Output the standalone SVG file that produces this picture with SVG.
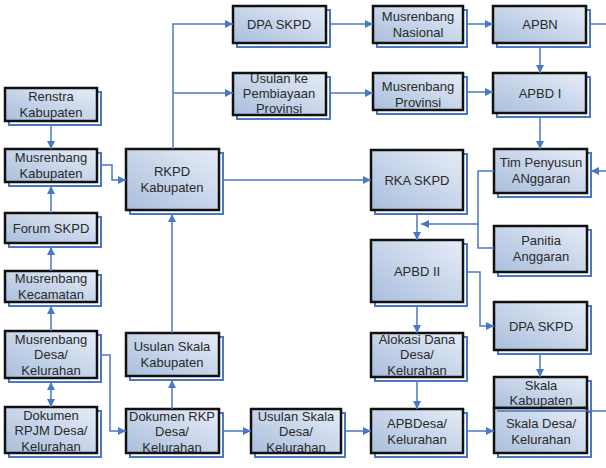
<svg xmlns="http://www.w3.org/2000/svg" width="606" height="468" viewBox="0 0 606 468">
<defs>
<linearGradient id="g" x1="0" y1="1" x2="1" y2="0">
<stop offset="0" stop-color="#A9BEDD"/>
<stop offset="1" stop-color="#E6ECF6"/>
</linearGradient>
<marker id="a" viewBox="0 0 10 10" refX="10" refY="5" markerWidth="8" markerHeight="8" markerUnits="userSpaceOnUse" orient="auto-start-reverse">
<path d="M0,0 L10,5 L0,10 z" fill="#4A78C2"/>
</marker>
<style>
.sh{fill:#fff;stroke:#4A78C2;stroke-width:2}
.bx{fill:url(#g);stroke:#111;stroke-width:2.5}
text{font-family:"Liberation Sans",Arial,sans-serif;font-size:13px;fill:#2a2a2a;text-anchor:middle}
.c path{fill:none;stroke:#4A78C2;stroke-width:1.5}
</style>
</defs>
<rect width="606" height="468" fill="#fff"/>

<g id="renstra"><rect class="sh" x="9" y="92" width="92" height="33"/><rect class="bx" x="5" y="88" width="92" height="33"/><text x="51" y="101">Renstra</text><text x="51" y="117">Kabupaten</text></g>
<g id="musKab"><rect class="sh" x="9" y="153" width="92" height="33"/><rect class="bx" x="5" y="149" width="92" height="33"/><text x="51" y="162">Musrenbang</text><text x="51" y="178">Kabupaten</text></g>
<g id="forum"><rect class="sh" x="9" y="217" width="92" height="30"/><rect class="bx" x="5" y="213" width="92" height="30"/><text x="51" y="233">Forum SKPD</text></g>
<g id="musKec"><rect class="sh" x="9" y="275" width="92" height="31"/><rect class="bx" x="5" y="271" width="92" height="31"/><text x="51" y="283">Musrenbang</text><text x="51" y="299">Kecamatan</text></g>
<g id="musDesa"><rect class="sh" x="9" y="335" width="92" height="47"/><rect class="bx" x="5" y="331" width="92" height="47"/><text x="51" y="344">Musrenbang</text><text x="51" y="359">Desa/</text><text x="51" y="375">Kelurahan</text></g>
<g id="rpjm"><rect class="sh" x="9" y="411" width="92" height="46"/><rect class="bx" x="5" y="407" width="92" height="46"/><text x="51" y="420">Dokumen</text><text x="51" y="435">RPJM Desa/</text><text x="51" y="451">Kelurahan</text></g>
<g id="rkpd"><rect class="sh" x="130" y="153" width="93" height="61"/><rect class="bx" x="126" y="149" width="93" height="61"/><text x="172" y="176">RKPD</text><text x="172" y="192">Kabupaten</text></g>
<g id="usulanKab"><rect class="sh" x="130" y="337" width="93" height="43"/><rect class="bx" x="126" y="333" width="93" height="43"/><text x="172" y="351">Usulan Skala</text><text x="172" y="367">Kabupaten</text></g>
<g id="dokRKP"><rect class="sh" x="130" y="413" width="93" height="44"/><rect class="bx" x="126" y="409" width="93" height="44"/><text x="172" y="421">Dokumen RKP</text><text x="172" y="436">Desa/</text><text x="172" y="452">Kelurahan</text></g>
<g id="usulanDesa"><rect class="sh" x="255" y="413" width="90" height="44"/><rect class="bx" x="251" y="409" width="90" height="44"/><text x="296" y="421">Usulan Skala</text><text x="296" y="436">Desa/</text><text x="296" y="452">Kelurahan</text></g>
<g id="dpa1"><rect class="sh" x="237" y="10" width="93" height="37"/><rect class="bx" x="233" y="6" width="93" height="37"/><text x="279" y="29">DPA SKPD</text></g>
<g id="usulanProv"><rect class="sh" x="237" y="77" width="93" height="42"/><rect class="bx" x="233" y="73" width="93" height="42"/><text x="279" y="83">Usulan ke</text><text x="279" y="98">Pembiayaan</text><text x="279" y="113">Provinsi</text></g>
<g id="musNas"><rect class="sh" x="377" y="10" width="90" height="37"/><rect class="bx" x="373" y="6" width="90" height="37"/><text x="418" y="21">Musrenbang</text><text x="418" y="37">Nasional</text></g>
<g id="apbn"><rect class="sh" x="497" y="10" width="93" height="37"/><rect class="bx" x="493" y="6" width="93" height="37"/><text x="540" y="29">APBN</text></g>
<g id="musProv"><rect class="sh" x="377" y="77" width="90" height="37"/><rect class="bx" x="373" y="73" width="90" height="37"/><text x="418" y="91">Musrenbang</text><text x="418" y="107">Provinsi</text></g>
<g id="apbd1"><rect class="sh" x="497" y="77" width="93" height="40"/><rect class="bx" x="493" y="73" width="93" height="40"/><text x="540" y="98">APBD I</text></g>
<g id="rka"><rect class="sh" x="375" y="154" width="92" height="60"/><rect class="bx" x="371" y="150" width="92" height="60"/><text x="417" y="185">RKA SKPD</text></g>
<g id="tim"><rect class="sh" x="498" y="153" width="93" height="44"/><rect class="bx" x="494" y="149" width="93" height="44"/><text x="541" y="167">Tim Penyusun</text><text x="541" y="183">ANggaran</text></g>
<g id="panitia"><rect class="sh" x="498" y="230" width="93" height="46"/><rect class="bx" x="494" y="226" width="93" height="46"/><text x="541" y="245">Panitia</text><text x="541" y="261">Anggaran</text></g>
<g id="apbd2"><rect class="sh" x="375" y="244" width="92" height="62"/><rect class="bx" x="371" y="240" width="92" height="62"/><text x="417" y="276">APBD II</text></g>
<g id="alokasi"><rect class="sh" x="375" y="337" width="92" height="44"/><rect class="bx" x="371" y="333" width="92" height="44"/><text x="417" y="344">Alokasi Dana</text><text x="417" y="359">Desa/</text><text x="417" y="375">Kelurahan</text></g>
<g id="apbdesa"><rect class="sh" x="375" y="413" width="92" height="44"/><rect class="bx" x="371" y="409" width="92" height="44"/><text x="417" y="428">APBDesa/</text><text x="417" y="444">Kelurahan</text></g>
<g id="dpa2"><rect class="sh" x="498" y="306" width="93" height="48"/><rect class="bx" x="494" y="302" width="93" height="48"/><text x="541" y="331">DPA SKPD</text></g>
<g id="skalaKab"><rect class="sh" x="498" y="381" width="93" height="31"/><rect class="bx" x="494" y="377" width="93" height="31"/><text x="541" y="390">Skala</text><text x="541" y="405">Kabupaten</text></g>
<g id="skalaDesa"><rect class="sh" x="498" y="412" width="93" height="45"/><rect class="bx" x="494" y="408" width="93" height="45"/><text x="541" y="428">Skala Desa/</text><text x="541" y="444">Kelurahan</text></g>

<g id="connectors" class="c">
<path d="M51,125 V149" marker-end="url(#a)"/>
<path d="M51,213 V186" marker-end="url(#a)"/>
<path d="M51,271 V247" marker-end="url(#a)"/>
<path d="M51,331 V306" marker-end="url(#a)"/>
<path d="M51,382 V407" marker-start="url(#a)" marker-end="url(#a)"/>
<path d="M101,165 H112 V180 H126" marker-end="url(#a)"/>
<path d="M101,355 H110 V431 H126" marker-end="url(#a)"/>
<path d="M172,409 V380" marker-end="url(#a)"/>
<path d="M172,333 V214" marker-end="url(#a)"/>
<path d="M173,149 V24 H233" marker-end="url(#a)"/>
<path d="M173,93 H233" marker-end="url(#a)"/>
<path d="M223,180 H371" marker-end="url(#a)"/>
<path d="M223,431 H251" marker-end="url(#a)"/>
<path d="M345,431 H371" marker-end="url(#a)"/>
<path d="M467,431 H494" marker-end="url(#a)"/>
<path d="M330,24 H373" marker-end="url(#a)"/>
<path d="M330,93 H373" marker-end="url(#a)"/>
<path d="M467,24 H493" marker-end="url(#a)"/>
<path d="M467,92 H493" marker-end="url(#a)"/>
<path d="M540,47 V73" marker-end="url(#a)"/>
<path d="M540,117 V149" marker-end="url(#a)"/>
<path d="M590,24 H606"/>
<path d="M606,171 H591" marker-end="url(#a)"/>
<path d="M494,171 H478 V224 H421" marker-end="url(#a)"/>
<path d="M494,248 H478 V224"/>
<path d="M417,214 V240" marker-end="url(#a)"/>
<path d="M467,272 H480 V326 H494" marker-end="url(#a)"/>
<path d="M417,306 V333" marker-end="url(#a)"/>
<path d="M417,381 V409" marker-end="url(#a)"/>
<path d="M540,354 V377" marker-end="url(#a)"/>
<path d="M497,411 H606"/>
</g>
</svg>
